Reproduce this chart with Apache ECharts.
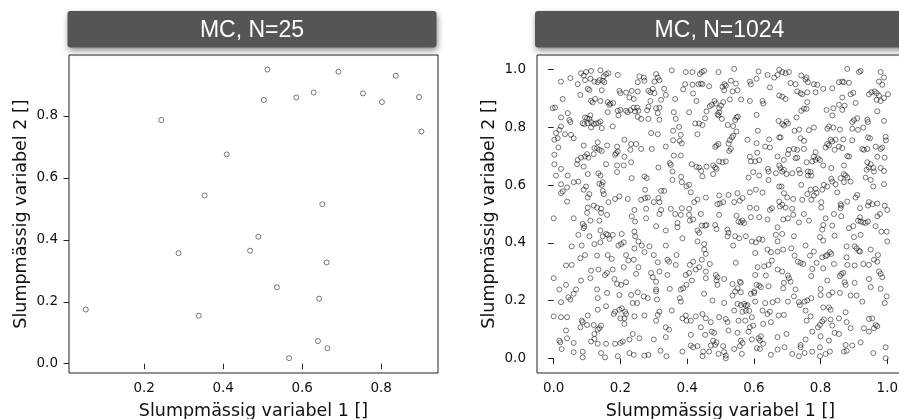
<!DOCTYPE html>
<html>
<head>
<meta charset="utf-8">
<script src="https://cdn.jsdelivr.net/npm/echarts@6/dist/echarts.min.js"></script>
<style>html,body{margin:0;padding:0;background:#fff;}#c{width:899px;height:419px;}</style>
</head>
<body>
<div id="c"></div>
<script>
// ---- Data ----
const titles = ['MC, N=25', 'MC, N=1024'];
const xLabel = 'Slumpmässig variabel 1 []';
const yLabel = 'Slumpmässig variabel 2 []';
const leftXTicks = [0.2, 0.4, 0.6, 0.8];
const leftYTicks = [0.0, 0.2, 0.4, 0.6, 0.8];
const rightXTicks = [0.0, 0.2, 0.4, 0.6, 0.8, 1.0];
const rightYTicks = [0.0, 0.2, 0.4, 0.6, 0.8, 1.0];

const mc25X = [0.512,0.692,0.837,0.503,0.585,0.629,0.754,0.802,0.896,0.243,0.902,0.409,0.353,0.651,0.489,0.287,0.468,0.662,0.536,0.643,0.052,0.338,0.640,0.664,0.567];
const mc25Y = [0.950,0.943,0.930,0.852,0.860,0.876,0.873,0.845,0.861,0.787,0.750,0.676,0.543,0.515,0.410,0.357,0.365,0.327,0.247,0.210,0.175,0.155,0.073,0.050,0.018];

const mc1024 = [
[.082,.987],[.097,.991],[.112,.995],[.090,.979],[.140,.997],[.157,.984],[.164,.987],[.150,.976],[.192,.981],[.022,.958],
[.050,.970],[.072,.949],[.094,.963],[.110,.968],[.122,.958],[.132,.956],[.137,.963],[.147,.961],[.152,.956],[.257,.976],
[.270,.972],[.252,.956],[.272,.961],[.307,.984],[.312,.972],[.302,.958],[.317,.963],[.102,.933],[.107,.929],[.080,.912],
[.144,.928],[.197,.926],[.200,.918],[.217,.920],[.234,.926],[.252,.924],[.227,.903],[.240,.898],[.284,.926],[.290,.921],
[.297,.933],[.302,.918],[.027,.898],[.112,.891],[.124,.898],[.140,.891],[.117,.886],[.162,.887],[.170,.882],[.178,.884],
[.167,.878],[.290,.891],[.322,.895],[-.003,.866],[.004,.868],[.042,.849],[.022,.834],[.047,.825],[.050,.818],[.094,.834],
[.100,.831],[.110,.841],[.107,.829],[.162,.852],[.192,.857],[.200,.860],[.194,.841],[.217,.857],[.222,.852],[.230,.859],
[.240,.868],[.250,.868],[.244,.855],[.254,.857],[.252,.836],[.262,.829],[.280,.859],[.284,.871],[.284,.829],[.307,.866],
[.317,.868],[.312,.849],[.317,.826],[.087,.814],[.092,.811],[.102,.814],[.112,.818],[.120,.811],[.127,.813],[.134,.815],
[.140,.820],[.112,.799],[.144,.797],[.177,.803],[.022,.803],[.017,.791],[.052,.774],[.060,.762],[.034,.776],[.007,.780],
[.012,.762],[.002,.757],[.292,.780],[.312,.776],[.212,.757],[.090,.737],[.132,.748],[.160,.737],[.232,.742],[.247,.742],
[.014,.730],[.122,.728],[.130,.728],[.137,.722],[.144,.718],[.190,.733],[.187,.710],[.184,.705],[.192,.716],[.230,.722],
[.262,.725],[.294,.725],[.002,.705],[.100,.707],[.094,.699],[.082,.695],[.072,.687],[.104,.695],[.120,.707],[.212,.698],
[.002,.672],[.070,.672],[.090,.664],[.157,.672],[.190,.668],[.210,.668],[.232,.679],[.022,.656],[.102,.638],[.134,.641],
[.140,.633],[.007,.633],[.042,.633],[.190,.645],[.272,.630],[.279,.624],[.314,.661],[.234,.624],[.074,.612],[.060,.610],
[.097,.595],[.137,.605],[.144,.601],[.147,.610],[.022,.603],[.040,.592],[.090,.584],[.107,.569],[.027,.578],[.022,.572],
[.040,.543],[.147,.580],[.150,.569],[.274,.584],[.322,.580],[.102,.557],[.197,.561],[.184,.552],[.164,.541],[.222,.552],
[.262,.549],[.274,.555],[.282,.557],[.314,.555],[.300,.541],[.317,.541],[.102,.522],[.120,.529],[.130,.522],[.142,.518],
[.242,.514],[.277,.518],[.322,.514],
[.354,.997],[.396,.991],[.416,.991],[.438,.984],[.444,.991],[.451,.995],[.494,.991],[.541,1.002],[.614,.993],[.641,.981],
[.661,.972],[.671,.981],[.676,.999],[.394,.949],[.416,.947],[.434,.949],[.441,.951],[.446,.949],[.466,.942],[.506,.940],
[.512,.949],[.516,.944],[.511,.928],[.531,.961],[.536,.924],[.546,.951],[.551,.928],[.588,.958],[.591,.949],[.608,.968],
[.648,.938],[.331,.933],[.336,.912],[.388,.931],[.418,.917],[.364,.898],[.428,.891],[.482,.891],[.486,.882],[.508,.887],
[.528,.896],[.562,.896],[.588,.891],[.626,.891],[.628,.882],[.676,.910],[.468,.873],[.474,.878],[.496,.866],[.502,.875],
[.491,.845],[.496,.852],[.494,.841],[.360,.852],[.366,.829],[.406,.852],[.458,.855],[.454,.831],[.504,.829],[.544,.825],
[.548,.834],[.552,.837],[.608,.843],[.674,.822],[.424,.813],[.436,.813],[.446,.808],[.522,.808],[.538,.804],[.358,.788],
[.376,.801],[.381,.774],[.431,.776],[.548,.785],[.538,.771],[.581,.757],[.612,.788],[.676,.765],[.646,.758],[.378,.753],
[.384,.744],[.358,.755],[.336,.733],[.534,.765],[.528,.755],[.524,.744],[.484,.732],[.488,.737],[.494,.742],[.531,.725],
[.526,.718],[.608,.745],[.634,.733],[.648,.730],[.360,.702],[.381,.702],[.610,.712],[.588,.698],[.591,.682],[.604,.682],
[.616,.686],[.671,.699],[.348,.676],[.351,.670],[.414,.672],[.428,.663],[.436,.661],[.442,.649],[.458,.664],[.478,.668],
[.484,.661],[.488,.656],[.496,.682],[.506,.679],[.516,.682],[.478,.638],[.446,.630],[.584,.626],[.598,.645],[.616,.633],
[.642,.656],[.644,.647],[.666,.641],[.676,.668],[.644,.617],[.356,.647],[.382,.629],[.384,.610],[.406,.601],[.356,.618],
[.398,.596],[.331,.580],[.411,.575],[.496,.564],[.524,.566],[.551,.572],[.566,.555],[.588,.575],[.606,.584],[.626,.574],
[.676,.595],[.421,.541],[.431,.550],[.456,.557],[.491,.534],[.498,.536],[.508,.541],[.541,.541],[.558,.546],[.588,.522],
[.608,.520],[.648,.514],[.654,.520],[.351,.518],[.384,.520],[.406,.518],[.676,.543],[.678,.526],
[.685,.991],[.695,.987],[.705,.991],[.880,1.002],[.920,.995],[.915,.991],[.980,.991],[.990,.972],[.742,.979],[.758,.972],
[.762,.956],[.755,.965],[.710,.953],[.725,.949],[.780,.949],[.790,.947],[.808,.933],[.835,.935],[.855,.956],[.865,.958],
[.870,.956],[.885,.954],[.975,.958],[.985,.947],[.730,.924],[.740,.918],[.745,.914],[.760,.921],[.785,.921],[.685,.906],
[.695,.898],[.890,.914],[.898,.919],[.865,.903],[.905,.884],[.945,.914],[.952,.921],[.962,.924],[.968,.918],[.975,.910],
[1.002,.914],[.990,.901],[.968,.895],[.980,.891],[.760,.887],[.818,.860],[.838,.866],[.855,.878],[.872,.875],[.865,.860],
[.750,.864],[.742,.857],[.758,.864],[.970,.855],[.728,.834],[.835,.841],[.910,.831],[.900,.825],[.895,.818],[.940,.826],
[.942,.818],[.990,.822],[.685,.811],[.698,.820],[.702,.813],[.690,.806],[.780,.799],[.765,.790],[.825,.803],[.838,.799],
[.820,.795],[.858,.792],[.895,.795],[.912,.791],[.928,.799],[.722,.788],[.736,.792],[.680,.765],[.740,.762],[.750,.753],
[.830,.757],[.835,.751],[.845,.757],[.868,.758],[.895,.755],[.942,.765],[.948,.762],[.995,.767],[.996,.755],[.820,.742],
[.825,.737],[.815,.730],[.855,.733],[.842,.722],[.865,.728],[.925,.725],[.930,.722],[.940,.725],[.965,.733],[.980,.725],
[.985,.730],[.705,.722],[.720,.725],[.730,.722],[.750,.725],[.785,.714],[.702,.707],[.730,.695],[.725,.693],[.780,.698],
[.785,.687],[.792,.693],[.798,.687],[.775,.682],[.970,.698],[.992,.695],[.758,.679],[.808,.668],[.870,.668],[.690,.687],
[.690,.653],[.680,.659],[.685,.647],[.698,.638],[.715,.641],[.735,.653],[.738,.641],[.762,.647],[.770,.645],[.762,.633],
[.772,.633],[.832,.659],[.880,.700],[.885,.699],[.940,.679],[.945,.661],[.950,.672],[.938,.653],[.958,.659],[.980,.659],
[.990,.649],[.960,.647],[.870,.638],[.875,.633],[.860,.624],[.880,.626],[.832,.622],[.835,.612],[.845,.603],[.870,.610],
[.890,.612],[.935,.626],[.950,.618],[.683,.595],[.742,.601],[.990,.603],[.958,.595],[.770,.584],[.785,.587],[.810,.601],
[.820,.595],[.805,.584],[.690,.572],[.760,.569],[.780,.564],[.788,.573],[.850,.575],[.700,.557],[.718,.552],[.745,.549],
[.772,.549],[.802,.541],[.860,.534],[.862,.529],[.910,.566],[.905,.557],[.880,.543],[.945,.541],[.955,.534],[.970,.536],
[.992,.529],[.685,.532],[.695,.522],[.715,.518],[.802,.522],[.860,.520],[.918,.520],[.942,.529],[1.000,.514],
[.000,.485],[.060,.485],[.100,.504],[.142,.504],[.160,.497],[.234,.492],[.244,.474],[.277,.485],[.087,.466],[.092,.458],
[.090,.451],[.110,.477],[.137,.477],[.140,.443],[.147,.423],[.157,.431],[.162,.428],[.177,.428],[.204,.431],[.242,.439],
[.244,.423],[.254,.405],[.074,.428],[.107,.423],[.307,.458],[.317,.500],[.122,.396],[.140,.402],[.167,.414],[.194,.391],
[.202,.396],[.210,.402],[.054,.388],[.084,.391],[.242,.381],[.272,.368],[.264,.391],[.287,.388],[.300,.358],[.094,.358],
[.080,.347],[.130,.356],[.162,.358],[.174,.345],[.217,.358],[.224,.339],[.240,.342],[.037,.322],[.054,.324],[.312,.333],
[.112,.304],[.134,.308],[.154,.289],[.160,.296],[.177,.308],[.210,.316],[.254,.316],[.247,.293],[.292,.296],[.297,.281],
[.317,.301],[.000,.278],[.082,.270],[.110,.278],[.182,.275],[.190,.258],[.202,.255],[.217,.264],[.307,.266],[.037,.255],
[.017,.239],[.067,.239],[.060,.224],[.044,.212],[.050,.204],[.130,.239],[.160,.227],[.197,.220],[.232,.220],[.252,.229],
[.270,.215],[.282,.209],[.307,.239],[.307,.232],[.022,.195],[.132,.209],[.157,.181],[.237,.192],[.250,.192],[.310,.204],
[.132,.169],[.184,.162],[.180,.154],[.197,.169],[.204,.174],[.214,.162],[.217,.154],[.242,.146],[.272,.149],[.317,.162],
[.312,.151],[.000,.146],[.022,.143],[.040,.143],[.084,.131],[.087,.126],[.080,.108],[.102,.149],[.100,.116],[.120,.116],
[.132,.100],[.137,.105],[.142,.114],[.200,.139],[.212,.139],[.212,.120],[.307,.131],[.037,.097],[.017,.062],[.020,.056],
[.040,.070],[.060,.054],[.112,.059],[.122,.068],[.132,.051],[.157,.051],[.184,.051],[.200,.054],[.207,.059],[.227,.066],
[.237,.085],[.257,.070],[.300,.066],[.122,.085],[.024,.033],[.060,.022],[.087,.024],[.087,.004],[.142,.019],[.154,.004],
[.192,.008],[.227,.019],[.240,.013],[.272,.010],[.284,.013],[.320,.027],
[.364,.500],[.381,.497],[.406,.497],[.441,.500],[.496,.497],[.548,.494],[.554,.474],[.561,.471],[.566,.477],[.571,.469],
[.591,.489],[.616,.489],[.641,.481],[.371,.469],[.408,.477],[.418,.481],[.371,.454],[.444,.460],[.454,.460],[.458,.462],
[.431,.443],[.436,.435],[.484,.462],[.488,.448],[.521,.446],[.524,.435],[.521,.423],[.544,.423],[.556,.416],[.576,.423],
[.594,.405],[.606,.402],[.616,.414],[.626,.411],[.671,.454],[.666,.428],[.671,.405],[.336,.443],[.386,.416],[.431,.405],
[.451,.396],[.538,.391],[.336,.391],[.451,.377],[.456,.362],[.641,.377],[.651,.368],[.671,.370],[.604,.365],[.368,.358],
[.341,.342],[.346,.335],[.366,.324],[.408,.324],[.418,.335],[.444,.342],[.468,.327],[.546,.331],[.611,.316],[.631,.319],
[.644,.324],[.654,.339],[.671,.308],[.396,.289],[.406,.296],[.426,.308],[.436,.316],[.456,.301],[.341,.289],[.486,.289],
[.491,.281],[.511,.275],[.488,.270],[.491,.255],[.414,.270],[.398,.255],[.456,.278],[.604,.289],[.636,.287],[.558,.266],
[.561,.262],[.536,.258],[.551,.243],[.388,.243],[.381,.239],[.348,.241],[.544,.232],[.536,.218],[.561,.229],[.591,.224],
[.601,.232],[.608,.255],[.616,.252],[.621,.247],[.601,.227],[.644,.250],[.451,.224],[.378,.209],[.381,.197],[.476,.201],
[.511,.192],[.551,.189],[.561,.185],[.571,.189],[.576,.183],[.581,.185],[.604,.197],[.634,.192],[.656,.195],[.671,.201],
[.354,.166],[.541,.166],[.566,.162],[.576,.165],[.586,.165],[.626,.166],[.641,.154],[.648,.162],[.674,.149],[.386,.139],
[.396,.149],[.398,.131],[.411,.131],[.426,.146],[.446,.154],[.456,.139],[.471,.126],[.496,.143],[.516,.137],[.554,.131],
[.574,.131],[.594,.143],[.651,.126],[.336,.108],[.346,.100],[.441,.108],[.474,.093],[.481,.089],[.521,.126],[.524,.097],
[.551,.089],[.588,.108],[.598,.114],[.584,.093],[.628,.120],[.336,.074],[.411,.082],[.454,.082],[.478,.062],[.488,.056],
[.484,.047],[.471,.045],[.508,.043],[.561,.062],[.566,.054],[.594,.066],[.614,.070],[.621,.077],[.618,.062],[.671,.074],
[.628,.051],[.386,.024],[.411,.045],[.418,.039],[.431,.043],[.448,.024],[.466,.024],[.494,.016],[.511,.022],[.516,.010],
[.541,.033],[.558,.043],[.564,.016],[.609,.036],[.618,.033],[.671,.031],[.651,.013],[.338,.008],[.446,.008],[.516,.001],
[.688,.481],[.702,.485],[.718,.497],[.735,.471],[.765,.477],[.750,.500],[.815,.485],[.840,.500],[.862,.492],[.918,.489],
[.912,.477],[.920,.474],[.928,.471],[.935,.469],[.942,.474],[.970,.492],[.978,.500],[.808,.462],[.835,.460],[.805,.446],
[.885,.451],[.898,.458],[.920,.428],[.900,.420],[.965,.458],[.982,.439],[.998,.439],[.685,.431],[.720,.423],[.798,.420],
[.808,.408],[.842,.425],[1.000,.405],[.688,.377],[.712,.381],[.755,.391],[.780,.370],[.768,.356],[.722,.356],[.805,.350],
[.820,.358],[.828,.368],[.832,.362],[.815,.354],[.878,.388],[.902,.388],[.908,.381],[.915,.373],[.918,.370],[.950,.377],
[.972,.358],[.878,.350],[.960,.342],[.970,.335],[.732,.335],[.740,.331],[.748,.327],[.788,.331],[.840,.327],[.880,.324],
[.902,.322],[.928,.327],[.945,.324],[.685,.301],[.775,.310],[.808,.312],[.862,.293],[.868,.296],[.858,.285],[.975,.301],
[.980,.293],[.985,.281],[.702,.287],[.705,.278],[.772,.285],[.820,.270],[.872,.264],[.875,.255],[.902,.262],[.945,.275],
[.950,.247],[.690,.262],[.710,.266],[.688,.243],[.725,.239],[.800,.241],[.980,.241],[.835,.229],[.858,.227],[.720,.215],
[.752,.197],[.735,.195],[.738,.185],[.760,.201],[.772,.209],[.800,.220],[.825,.220],[.890,.218],[.908,.218],[.925,.197],
[.998,.215],[.992,.192],[.702,.197],[.808,.177],[.825,.177],[.830,.169],[.875,.160],[.755,.166],[.770,.146],[.690,.151],
[.758,.131],[.805,.128],[.810,.135],[.798,.116],[.792,.108],[.830,.135],[.835,.114],[.855,.139],[.878,.126],[.890,.105],
[.945,.137],[.955,.139],[.965,.116],[.970,.112],[.960,.105],[.945,.093],[.930,.105],[.698,.085],[.775,.093],[.800,.077],
[.842,.089],[.855,.085],[.825,.062],[.755,.066],[.740,.047],[.740,.039],[.715,.016],[.735,.008],[.752,.019],[.775,.024],
[.798,.039],[.798,.008],[.815,.016],[.828,.024],[.875,.047],[.878,.027],[.870,.024],[.895,.045],[.920,.056],[.958,.019],
[.995,.039],[.995,.001],[.692,.039]
];

// ---- Chart ----
const FONT = 'DejaVu Sans';
const tickStyle = {fontSize: 13.5, fontFamily: FONT, color: '#111'};
const nameStyle = {fontSize: 17.5, fontFamily: FONT, color: '#111'};

function xAxis(grid, min, max, ticks) {
  return {
    type: 'value', gridIndex: grid, min: min, max: max,
    axisLine: {show: false},
    axisTick: {show: true, inside: false, length: 5.5, customValues: ticks, lineStyle: {color: '#222', width: 1}},
    axisLabel: Object.assign({customValues: ticks, margin: 8.5, formatter: v => v.toFixed(1)}, tickStyle),
    splitLine: {show: false},
    name: xLabel, nameLocation: 'middle', nameGap: 29.5, nameTextStyle: nameStyle
  };
}
function yAxis(grid, min, max, ticks) {
  return {
    type: 'value', gridIndex: grid, min: min, max: max,
    axisLine: {show: false},
    axisTick: {show: true, inside: false, length: 5.5, customValues: ticks, lineStyle: {color: '#222', width: 1}},
    axisLabel: Object.assign({customValues: ticks, margin: 11, formatter: v => v.toFixed(1)}, tickStyle),
    splitLine: {show: false},
    name: yLabel, nameLocation: 'middle', nameGap: 39, nameTextStyle: nameStyle
  };
}

const pointStyle = {color: 'rgba(0,0,0,0)', borderColor: 'rgba(0,0,0,0.65)', borderWidth: 1};

const chart = echarts.init(document.getElementById('c'), null, {renderer: 'canvas'});
chart.setOption({
  animation: false,
  backgroundColor: '#fff',
  grid: [
    {left: 69, top: 55, width: 369, height: 318, show: true, borderColor: '#222', borderWidth: 1, backgroundColor: '#fff', outerBoundsMode: 'none', containLabel: false},
    {left: 537, top: 55, width: 367, height: 318, show: true, borderColor: '#222', borderWidth: 1, backgroundColor: '#fff', outerBoundsMode: 'none', containLabel: false}
  ],
  xAxis: [xAxis(0, 0.0095, 0.944, leftXTicks), xAxis(1, -0.05, 1.05, rightXTicks)],
  yAxis: [yAxis(0, -0.030, 0.997, leftYTicks), yAxis(1, -0.05, 1.05, rightYTicks)],
  series: [
    {type: 'scatter', xAxisIndex: 0, yAxisIndex: 0, symbol: 'circle', symbolSize: 5, silent: true,
     itemStyle: pointStyle, data: mc25X.map((x, i) => [x, mc25Y[i]])},
    {type: 'scatter', xAxisIndex: 1, yAxisIndex: 1, symbol: 'circle', symbolSize: 5, silent: true, large: false, progressive: 0,
     itemStyle: pointStyle, data: mc1024}
  ],
  graphic: [
    {type: 'rect', shape: {x: 67.5, y: 11, width: 369, height: 36.5, r: 3}, z: 10,
     style: {fill: '#555555', shadowBlur: 6, shadowColor: 'rgba(0,0,0,0.45)', shadowOffsetX: 1, shadowOffsetY: 3}},
    {type: 'text', x: 252, y: 31, z: 11,
     style: {text: titles[0], fill: '#fff', fontSize: 23, fontFamily: 'Liberation Sans', align: 'center', verticalAlign: 'middle'}},
    {type: 'rect', shape: {x: 535, y: 11, width: 369, height: 36.5, r: 3}, z: 10,
     style: {fill: '#555555', shadowBlur: 6, shadowColor: 'rgba(0,0,0,0.45)', shadowOffsetX: 1, shadowOffsetY: 3}},
    {type: 'text', x: 719.5, y: 31, z: 11,
     style: {text: titles[1], fill: '#fff', fontSize: 23, fontFamily: 'Liberation Sans', align: 'center', verticalAlign: 'middle'}}
  ]
});
</script>
</body>
</html>
